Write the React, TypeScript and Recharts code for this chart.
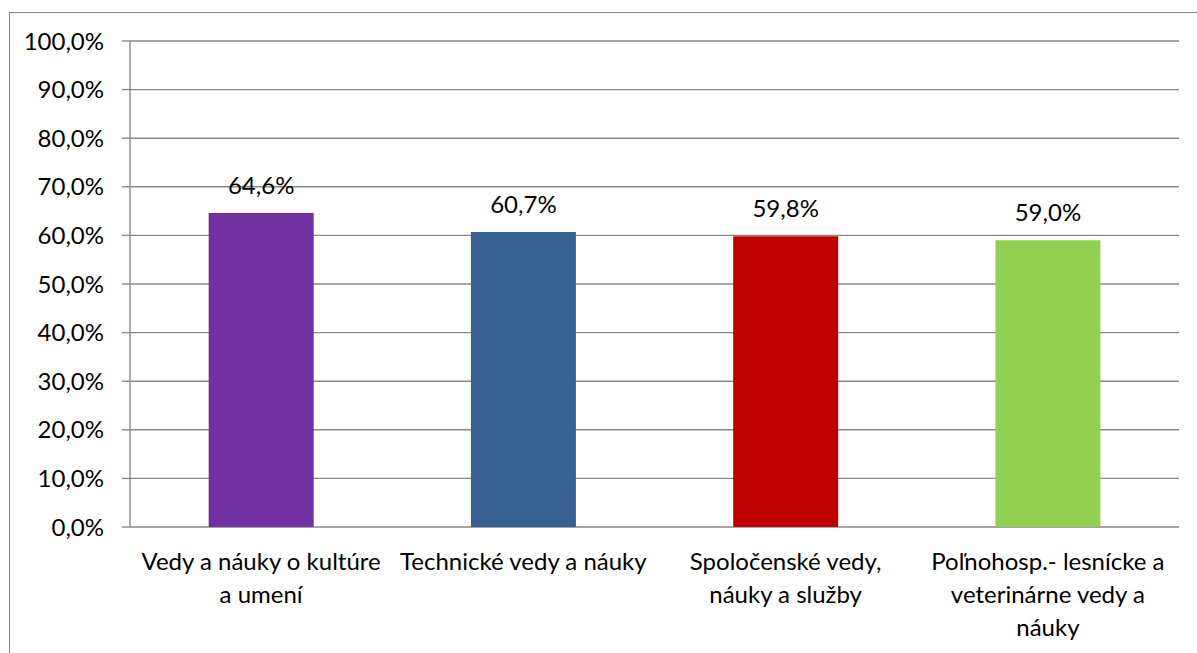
import React from 'react';
import { BarChart, Bar, XAxis, YAxis, CartesianGrid, LabelList, Cell } from 'recharts';

// categories (\n = line break as in the original chart)
const categories = [
  'Vedy a náuky o kultúre\na umení',
  'Technické vedy a náuky',
  'Spoločenské vedy,\nnáuky a služby',
  'Poľnohosp.- lesnícke a\nveterinárne vedy a\nnáuky',
];
const shares = [64.6, 60.7, 59.8, 59.0];
const barColors = ['#7030A0', '#376092', '#C00000', '#92D050'];
const yTicks = [0, 10, 20, 30, 40, 50, 60, 70, 80, 90, 100];
const edgeTicks = [0, 1, 2, 3, 4];

const data = categories.map((name, i) => ({ name, value: shares[i] }));

const FONT = 'Lato, "Open Sans", sans-serif';
const FS = 24;
const GRID = '#888888';

const pct = (v: number) => v.toFixed(1).replace('.', ',') + '%';

const CategoryTick = (props: any) => {
  const { x, y, payload } = props;
  const lines = String(payload.value).split('\n');
  return (
    <g>
      <text x={x} y={y} textAnchor="middle" fill="#000" fontSize={FS} fontFamily={FONT}>
        {lines.map((line, i) => (
          <tspan key={i} x={x} dy={i === 0 ? 43 : 33}>
            {line}
          </tspan>
        ))}
      </text>
    </g>
  );
};

export default function App() {
  return (
    <div style={{ position: 'fixed', left: 0, top: 0, width: 1197, height: 653, overflow: 'hidden', background: '#fff' }}>
      <div
        style={{
          position: 'absolute',
          left: 9,
          top: 12,
          width: 1300,
          height: 800,
          border: `1.3px solid ${GRID}`,
        }}
      />
      <div style={{ position: 'absolute', left: 0, top: 0 }}>
        <BarChart
          width={1197}
          height={653}
          data={data}
          margin={{ top: 41, right: 18, left: 0, bottom: 0 }}
          barCategoryGap="30%"
        >
          <CartesianGrid vertical={false} stroke={GRID} strokeWidth={1.4} />
          <XAxis
            xAxisId="edges"
            type="number"
            domain={[0, 4]}
            ticks={edgeTicks}
            allowDataOverflow
            height={0}
            tickSize={8}
            tickFormatter={() => ''}
            axisLine={{ stroke: GRID, strokeWidth: 1.4 }}
            tickLine={{ stroke: GRID, strokeWidth: 1.4 }}
          />
          <XAxis
            dataKey="name"
            height={126}
            axisLine={false}
            tickLine={false}
            tickSize={0}
            tickMargin={0}
            interval={0}
            tick={<CategoryTick />}
          />
          <YAxis
            width={130}
            domain={[0, 100]}
            ticks={yTicks}
            interval={0}
            tickFormatter={pct}
            tickSize={8}
            tickMargin={18}
            axisLine={{ stroke: GRID, strokeWidth: 1.4 }}
            tickLine={{ stroke: GRID, strokeWidth: 1.4 }}
            tick={{ fill: '#000', fontSize: FS, fontFamily: FONT }}
          />
          <Bar dataKey="value" isAnimationActive={false}>
            {data.map((_, i) => (
              <Cell key={i} fill={barColors[i]} />
            ))}
            <LabelList
              dataKey="value"
              position="top"
              offset={19}
              formatter={(v: any) => pct(Number(v))}
              style={{ fill: '#000', fontSize: FS, fontFamily: FONT }}
            />
          </Bar>
        </BarChart>
      </div>
    </div>
  );
}
